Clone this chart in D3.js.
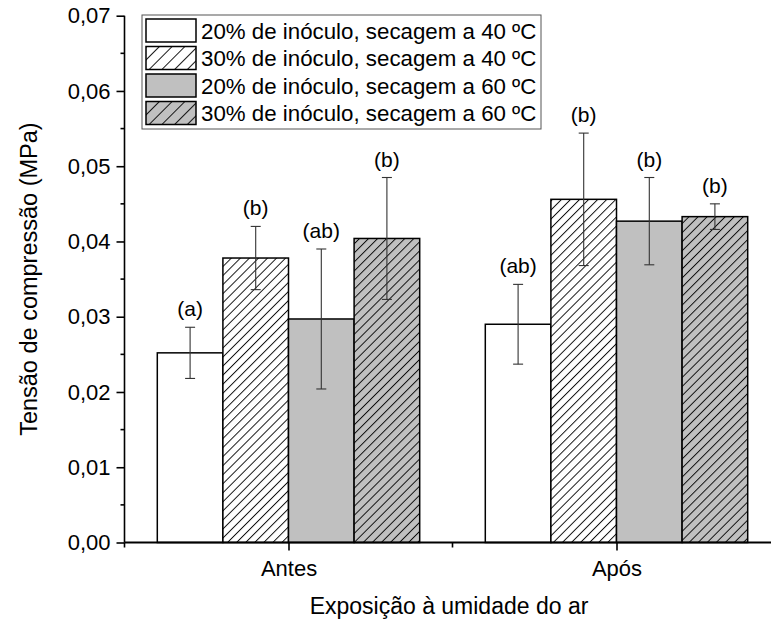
<!DOCTYPE html>
<html>
<head>
<meta charset="utf-8">
<script src="https://cdn.jsdelivr.net/npm/d3@7"></script>
<style>
  body { margin: 0; background: #fff; }
  svg text { font-family: "Liberation Sans", Arial, sans-serif; fill: #000; }
</style>
</head>
<body>
<div id="chart"></div>
<script>
// data
const groups = ["Antes", "Após"];
const series = [
    "20% de inóculo, secagem a 40 ºC",
    "30% de inóculo, secagem a 40 ºC",
    "20% de inóculo, secagem a 60 ºC",
    "30% de inóculo, secagem a 60 ºC"
];
// mean per series, one entry per group (Antes, Após)
const meanValues = [
    [0.0252, 0.0290],
    [0.0378, 0.0456],
    [0.0297, 0.0427],
    [0.0404, 0.0433]
];
const errValues = [
    [0.0034, 0.0053],
    [0.0042, 0.0088],
    [0.0093, 0.0058],
    [0.0081, 0.0017]
];
const letterLabels = [
    ["(a)", "(ab)"],
    ["(b)", "(b)"],
    ["(ab)", "(b)"],
    ["(b)", "(b)"]
];
const yTicks = [0, 0.01, 0.02, 0.03, 0.04, 0.05, 0.06, 0.07];

const width = 771, height = 622;
const fills = ["#ffffff", "url(#hatchW)", "#c0c0c0", "url(#hatchG)"];
const legendFills = ["#ffffff", "url(#hatchWL)", "#c0c0c0", "url(#hatchGL)"];

const svg = d3.select("#chart").append("svg")
    .attr("width", width)
    .attr("height", height);

// hatch patterns ("/" lines)
const defs = svg.append("defs");
const addHatch = (id, bg, step) => {
    const p = defs.append("pattern")
        .attr("id", id)
        .attr("patternUnits", "userSpaceOnUse")
        .attr("width", step)
        .attr("height", step)
        .attr("patternTransform", "rotate(45)");
    p.append("rect").attr("width", step).attr("height", step).attr("fill", bg);
    p.append("line")
        .attr("x1", 0.5).attr("y1", 0).attr("x2", 0.5).attr("y2", step)
        .attr("stroke", "#000").attr("stroke-width", 0.9);
};
addHatch("hatchW", "#ffffff", 6.4);
addHatch("hatchG", "#c0c0c0", 6.4);
addHatch("hatchWL", "#ffffff", 9);
addHatch("hatchGL", "#c0c0c0", 9);

const x = d3.scaleLinear().domain([0.5, 2.5]).range([124.5, 780.5]);
const y = d3.scaleLinear().domain([0, 0.07]).range([542.5, 15.7]);
const barW = 0.2;

// flatten into bar records
const bars = [];
series.forEach((s, si) => {
    groups.forEach((g, gi) => {
        bars.push({
            si, gi,
            pos: gi + 1 - 0.4 + si * barW,
            v: meanValues[si][gi],
            e: errValues[si][gi],
            lab: letterLabels[si][gi]
        });
    });
});

const plot = svg.append("g");

plot.selectAll(".bar")
    .data(bars)
    .join("rect")
    .attr("class", "bar")
    .attr("x", d => x(d.pos))
    .attr("y", d => y(d.v))
    .attr("width", d => x(d.pos + barW) - x(d.pos))
    .attr("height", d => y(0) - y(d.v))
    .attr("fill", d => fills[d.si])
    .attr("stroke", "#000")
    .attr("stroke-width", 1.5);

// error bars
const eb = plot.selectAll(".err")
    .data(bars)
    .join("g")
    .attr("class", "err")
    .attr("stroke", "#333")
    .attr("stroke-width", 1.1);
const cx = d => x(d.pos + barW / 2);
eb.append("line")
    .attr("x1", cx).attr("x2", cx)
    .attr("y1", d => y(d.v + d.e)).attr("y2", d => y(d.v - d.e));
eb.append("line")
    .attr("x1", d => cx(d) - 5).attr("x2", d => cx(d) + 5)
    .attr("y1", d => y(d.v + d.e)).attr("y2", d => y(d.v + d.e));
eb.append("line")
    .attr("x1", d => cx(d) - 5).attr("x2", d => cx(d) + 5)
    .attr("y1", d => y(d.v - d.e)).attr("y2", d => y(d.v - d.e));

plot.selectAll(".lab")
    .data(bars)
    .join("text")
    .attr("class", "lab")
    .attr("x", cx)
    .attr("y", d => y(d.v + d.e) - 11)
    .attr("text-anchor", "middle")
    .style("font-size", "21px")
    .text(d => d.lab);

// y axis
const yAxis = svg.append("g")
    .attr("transform", `translate(${x(0.5)},0)`)
    .call(d3.axisLeft(y).tickValues(yTicks).tickSize(8).tickPadding(6)
        .tickFormat(d => d3.format(".2f")(d).replace(".", ",")));
yAxis.select(".domain").attr("stroke-width", 1.6).attr("d", `M0,${y(0.07)}V${y(0)}`);
yAxis.selectAll(".tick line").attr("stroke-width", 1.6);
yAxis.selectAll(".tick text").style("font-size", "22px").attr("font-family", null);
yAxis.append("g").selectAll("line")
    .data(d3.range(0.005, 0.07, 0.01))
    .join("line")
    .attr("x1", -4).attr("x2", 0)
    .attr("y1", d => y(d)).attr("y2", d => y(d))
    .attr("stroke", "#000").attr("stroke-width", 1.6);

// x axis
const xAxis = svg.append("g")
    .attr("transform", `translate(0,${y(0)})`)
    .call(d3.axisBottom(x).tickValues([1, 2]).tickSize(8).tickPadding(10)
        .tickFormat((d, i) => groups[i]));
xAxis.select(".domain").attr("stroke-width", 2).attr("d", `M${x(0.5)},0H${x(2.5)}`);
xAxis.selectAll(".tick line").attr("stroke-width", 1.6);
xAxis.selectAll(".tick text").style("font-size", "22px").attr("font-family", null);
xAxis.append("g").selectAll("line")
    .data([0.5, 1.5])
    .join("line")
    .attr("x1", d => x(d)).attr("x2", d => x(d))
    .attr("y1", 0).attr("y2", 5)
    .attr("stroke", "#000").attr("stroke-width", 1.6);

// axis titles
svg.append("text")
    .attr("transform", `translate(37,${(y(0) + y(0.07)) / 2}) rotate(-90)`)
    .attr("text-anchor", "middle")
    .style("font-size", "23.5px")
    .text("Tensão de compressão (MPa)");
svg.append("text")
    .attr("x", 449)
    .attr("y", 614)
    .attr("text-anchor", "middle")
    .style("font-size", "23px")
    .text("Exposição à umidade do ar");

// legend
const legend = svg.append("g").attr("transform", "translate(142,15)");
legend.append("rect")
    .attr("width", 399).attr("height", 114)
    .attr("fill", "#fff").attr("stroke", "#555").attr("stroke-width", 1);
const rows = legend.selectAll(".row")
    .data(series)
    .join("g")
    .attr("class", "row")
    .attr("transform", (d, i) => `translate(4,${4 + i * 27.5})`);
rows.append("rect")
    .attr("width", 50).attr("height", 23)
    .attr("fill", (d, i) => legendFills[i])
    .attr("stroke", "#000").attr("stroke-width", 1.5);
rows.append("text")
    .attr("x", 55).attr("y", 19.5)
    .style("font-size", "22.3px")
    .text(d => d);
</script>
</body>
</html>
